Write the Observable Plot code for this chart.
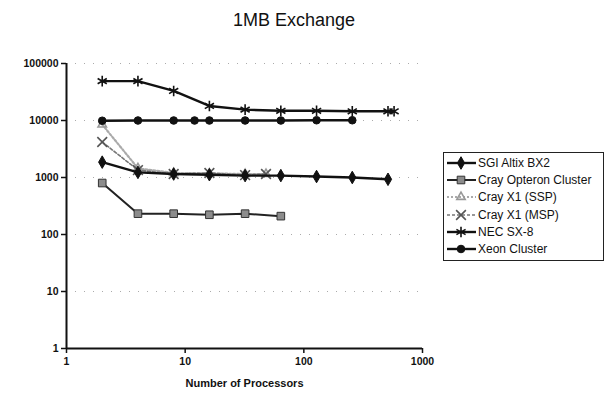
<!DOCTYPE html>
<html>
<head>
<meta charset="utf-8">
<script src="https://cdn.jsdelivr.net/npm/d3@7"></script>
<script src="https://cdn.jsdelivr.net/npm/@observablehq/plot@0.6"></script>
<style>
  body { margin: 0; background: #fff; font-family: Arial, "Liberation Sans", sans-serif; }
  #wrap { position: relative; width: 608px; height: 395px; }
  #chart { position: absolute; left: 0; top: 0; }
  #title { position: absolute; left: 0; top: 10px; width: 588px; text-align: center; font-size: 18px; color: #111; z-index: 2; }
  #legend { position: absolute; left: 443px; top: 152px; width: 159px; border: 1px solid #222; padding: 1px 0 2px 0; background: #fff; z-index: 2; }
  .item { display: flex; align-items: center; height: 17.3px; font-size: 12px; color: #111; }
  .item svg { margin-right: 1px; }
</style>
</head>
<body>
<div id="wrap">
  <div id="chart"></div>
  <div id="title">1MB Exchange</div>
  <div id="legend"></div>
</div>
<script>
// ---- data ----
const xTicks = [1, 10, 100, 1000];
const yTicks = [1, 10, 100, 1000, 10000, 100000];

const sgiProcs = [2, 4, 8, 16, 32, 64, 128, 256, 512];
const sgiValues = [1860, 1230, 1150, 1120, 1080, 1080, 1040, 1000, 930];

const opteronProcs = [2, 4, 8, 16, 32, 64];
const opteronValues = [800, 232, 232, 222, 232, 210];

const ssqProcs = [2, 4, 8, 16, 32, 48];
const ssqValues = [8500, 1450, 1200, 1180, 1150, 1150];

const mspProcs = [2, 4, 8, 16, 32, 48];
const mspValues = [4200, 1350, 1150, 1200, 1100, 1150];

const necProcs = [2, 4, 8, 16, 32, 64, 128, 256, 512, 576];
const necValues = [49000, 49000, 33000, 18000, 15500, 14800, 14800, 14500, 14500, 14500];

const xeonProcs = [2, 4, 8, 12, 16, 32, 64, 128, 256];
const xeonValues = [9900, 10000, 10000, 10000, 10000, 10000, 10000, 10100, 10100];

const seriesNames = ["SGI Altix BX2", "Cray Opteron Cluster", "Cray X1 (SSP)", "Cray X1 (MSP)", "NEC SX-8", "Xeon Cluster"];

// ---- styles ----
const styles = {
  "SGI Altix BX2":        {stroke: "#111", width: 2.4, dash: null,  symbol: "diamond",   fill: "#111", mstroke: "#111", r: 3.8, d3sym: d3.symbolDiamond, symFill: true},
  "Cray Opteron Cluster": {stroke: "#222", width: 2.0, dash: null,  symbol: "square",    fill: "#8c8c8c", mstroke: "#333", r: 4.3, d3sym: d3.symbolSquare, symFill: true},
  "Cray X1 (SSP)":        {stroke: "#aaa", width: 2.2, dash: "2,2", symbol: "triangle2", fill: "none", mstroke: "#999", r: 4.0, d3sym: d3.symbolTriangle2, symFill: false},
  "Cray X1 (MSP)":        {stroke: "#777", width: 1.6, dash: "3,2", symbol: "times",     fill: "none", mstroke: "#555", r: 4.5, d3sym: d3.symbolTimes, symFill: false},
  "NEC SX-8":             {stroke: "#111", width: 2.4, dash: null,  symbol: "asterisk",  fill: "none", mstroke: "#111", r: 5.0, d3sym: d3.symbolAsterisk, symFill: false},
  "Xeon Cluster":         {stroke: "#111", width: 2.4, dash: null,  symbol: "circle",    fill: "#111", mstroke: "#111", r: 3.8, d3sym: d3.symbolCircle, symFill: true}
};

const seriesData = {
  "SGI Altix BX2": sgiProcs.map((p, i) => ({p, v: sgiValues[i]})),
  "Cray Opteron Cluster": opteronProcs.map((p, i) => ({p, v: opteronValues[i]})),
  "Cray X1 (SSP)": ssqProcs.map((p, i) => ({p, v: ssqValues[i]})),
  "Cray X1 (MSP)": mspProcs.map((p, i) => ({p, v: mspValues[i]})),
  "NEC SX-8": necProcs.map((p, i) => ({p, v: necValues[i]})),
  "Xeon Cluster": xeonProcs.map((p, i) => ({p, v: xeonValues[i]}))
};

const drawOrder = ["Cray X1 (SSP)", "Cray X1 (MSP)", "SGI Altix BX2", "Cray Opteron Cluster", "Xeon Cluster", "NEC SX-8"];

const marks = [
  Plot.ruleY(yTicks.slice(1), {stroke: "#888", strokeWidth: 1, strokeDasharray: "1,8", strokeOpacity: 0.7}),
  Plot.axisY({ticks: yTicks, tickFormat: d => String(d), tickSize: 5, tickPadding: 3, fontWeight: "bold", fontSize: 10.5, stroke: "#111", strokeWidth: 1.5, label: null}),
  Plot.axisX({ticks: xTicks, tickFormat: d => String(d), tickSize: 5, tickPadding: 4, fontWeight: "bold", fontSize: 10.5, stroke: "#111", strokeWidth: 1.5, label: null}),
  Plot.ruleX([1], {stroke: "#111", strokeWidth: 2}),
  Plot.ruleY([1], {stroke: "#111", strokeWidth: 2}),
  Plot.text(["Number of Processors"], {frameAnchor: "bottom", dy: 38, fontWeight: "bold", fontSize: 11, fill: "#111"})
];

for (const name of drawOrder) {
  const s = styles[name];
  const data = seriesData[name];
  marks.push(Plot.line(data, {x: "p", y: "v", stroke: s.stroke, strokeWidth: s.width, strokeDasharray: s.dash}));
  marks.push(Plot.dot(data, {x: "p", y: "v", symbol: () => s.symbol, fill: s.fill, stroke: s.mstroke, strokeWidth: s.symFill ? 1 : 1.6, r: s.r}));
}

const chart = Plot.plot({
  width: 608,
  height: 395,
  marginLeft: 66,
  marginRight: 186,
  marginTop: 63,
  marginBottom: 47,
  style: {fontFamily: "Arial, 'Liberation Sans', sans-serif", color: "#111", background: "transparent"},
  x: {type: "log", domain: [1, 1000], axis: null},
  y: {type: "log", domain: [1, 100000], axis: null},
  symbol: {type: "identity"},
  marks
});
document.getElementById("chart").appendChild(chart);

// ---- legend ----
const legend = d3.select("#legend");
for (const name of seriesNames) {
  const s = styles[name];
  const item = legend.append("div").attr("class", "item");
  const svg = item.append("svg").attr("width", 33).attr("height", 14);
  svg.append("line").attr("x1", 3).attr("x2", 32).attr("y1", 7).attr("y2", 7)
    .attr("stroke", s.stroke).attr("stroke-width", s.width).attr("stroke-dasharray", s.dash);
  svg.append("path").attr("transform", "translate(17,7)")
    .attr("d", d3.symbol(s.d3sym, Math.PI * s.r * s.r)())
    .attr("fill", s.fill).attr("stroke", s.mstroke).attr("stroke-width", s.symFill ? 1 : 1.6);
  item.append("span").text(name);
}
</script>
</body>
</html>
